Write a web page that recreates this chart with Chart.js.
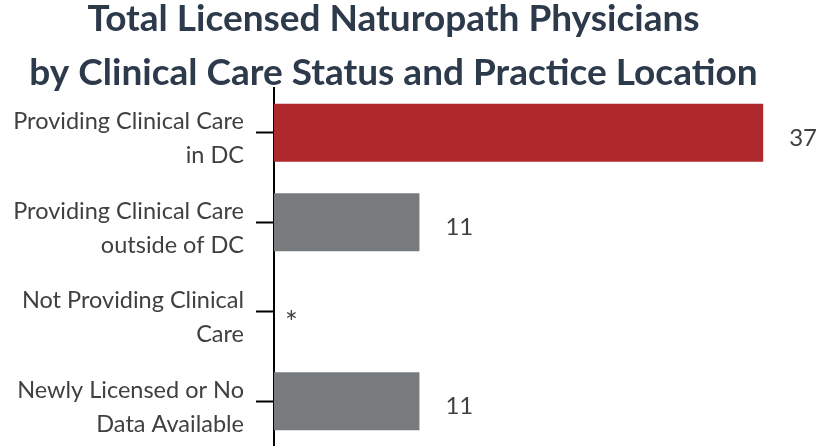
<!DOCTYPE html>
<html>
<head>
<meta charset="utf-8">
<script src="https://cdn.jsdelivr.net/npm/chart.js@4/dist/chart.umd.min.js"></script>
<style>
html,body{margin:0;padding:0;background:#fff;}
#wrap{width:839px;height:446px;position:relative;}
</style>
</head>
<body>
<div id="wrap"><canvas id="c"></canvas></div>
<script>
const titleLines = ['Total Licensed Naturopath Physicians', 'by Clinical Care Status and Practice Location'];
const categories = [
  ['Providing Clinical Care', 'in DC'],
  ['Providing Clinical Care', 'outside of DC'],
  ['Not Providing Clinical', 'Care'],
  ['Newly Licensed or No', 'Data Available']
];
const values = [37, 11, 0, 11];
const valueLabels = ['37', '11', '*', '11'];
const barColors = ['#AE282C', '#777B7E', '#777B7E', '#777B7E'];

const valueLabelPlugin = {
  id: 'valueLabels',
  afterDatasetsDraw(chart) {
    const ctx = chart.ctx;
    const meta = chart.getDatasetMeta(0);
    ctx.save();
    ctx.fillStyle = '#404040';
    ctx.textAlign = 'left';
    ctx.textBaseline = 'middle';
    meta.data.forEach((bar, i) => {
      if (values[i] > 0) {
        ctx.font = '24px Lato';
        ctx.fillText(valueLabels[i], bar.x + 26, bar.y + 5);
      } else {
        ctx.font = '30px Lato';
        ctx.fillText(valueLabels[i], bar.x + 11, bar.y + 12);
      }
    });
    ctx.restore();
  }
};

new Chart(document.getElementById('c'), {
  type: 'bar',
  data: {
    labels: categories,
    datasets: [{
      data: values,
      backgroundColor: barColors,
      borderWidth: 0,
      barPercentage: 0.65,
      categoryPercentage: 1.0
    }]
  },
  options: {
    indexAxis: 'y',
    responsive: true,
    maintainAspectRatio: false,
    animation: false,
    layout: { padding: { left: 0, right: 52, top: 0, bottom: 0 } },
    plugins: {
      legend: { display: false },
      tooltip: { enabled: false },
      title: {
        display: true,
        text: titleLines,
        color: '#2D3A4B',
        font: { family: 'Lato', size: 37, weight: 'bold', lineHeight: 1.46 },
        padding: { top: -8, bottom: -12 }
      }
    },
    scales: {
      x: {
        display: false,
        min: 0,
        max: 38.8
      },
      y: {
        afterFit(scale) {
          scale.width = 274;
          scale.paddingTop = 0;
          scale.paddingBottom = 0;
        },
        grid: {
          display: true,
          drawOnChartArea: false,
          drawTicks: true,
          tickLength: 18,
          tickColor: '#000',
          tickWidth: 2,
          offset: false
        },
        border: { display: true, color: '#000', width: 2 },
        ticks: {
          color: '#404040',
          font: { family: 'Lato', size: 23.5, lineHeight: 1.45 },
          padding: 12,
          labelOffset: 6
        }
      }
    }
  },
  plugins: [valueLabelPlugin]
});
</script>
</body>
</html>
